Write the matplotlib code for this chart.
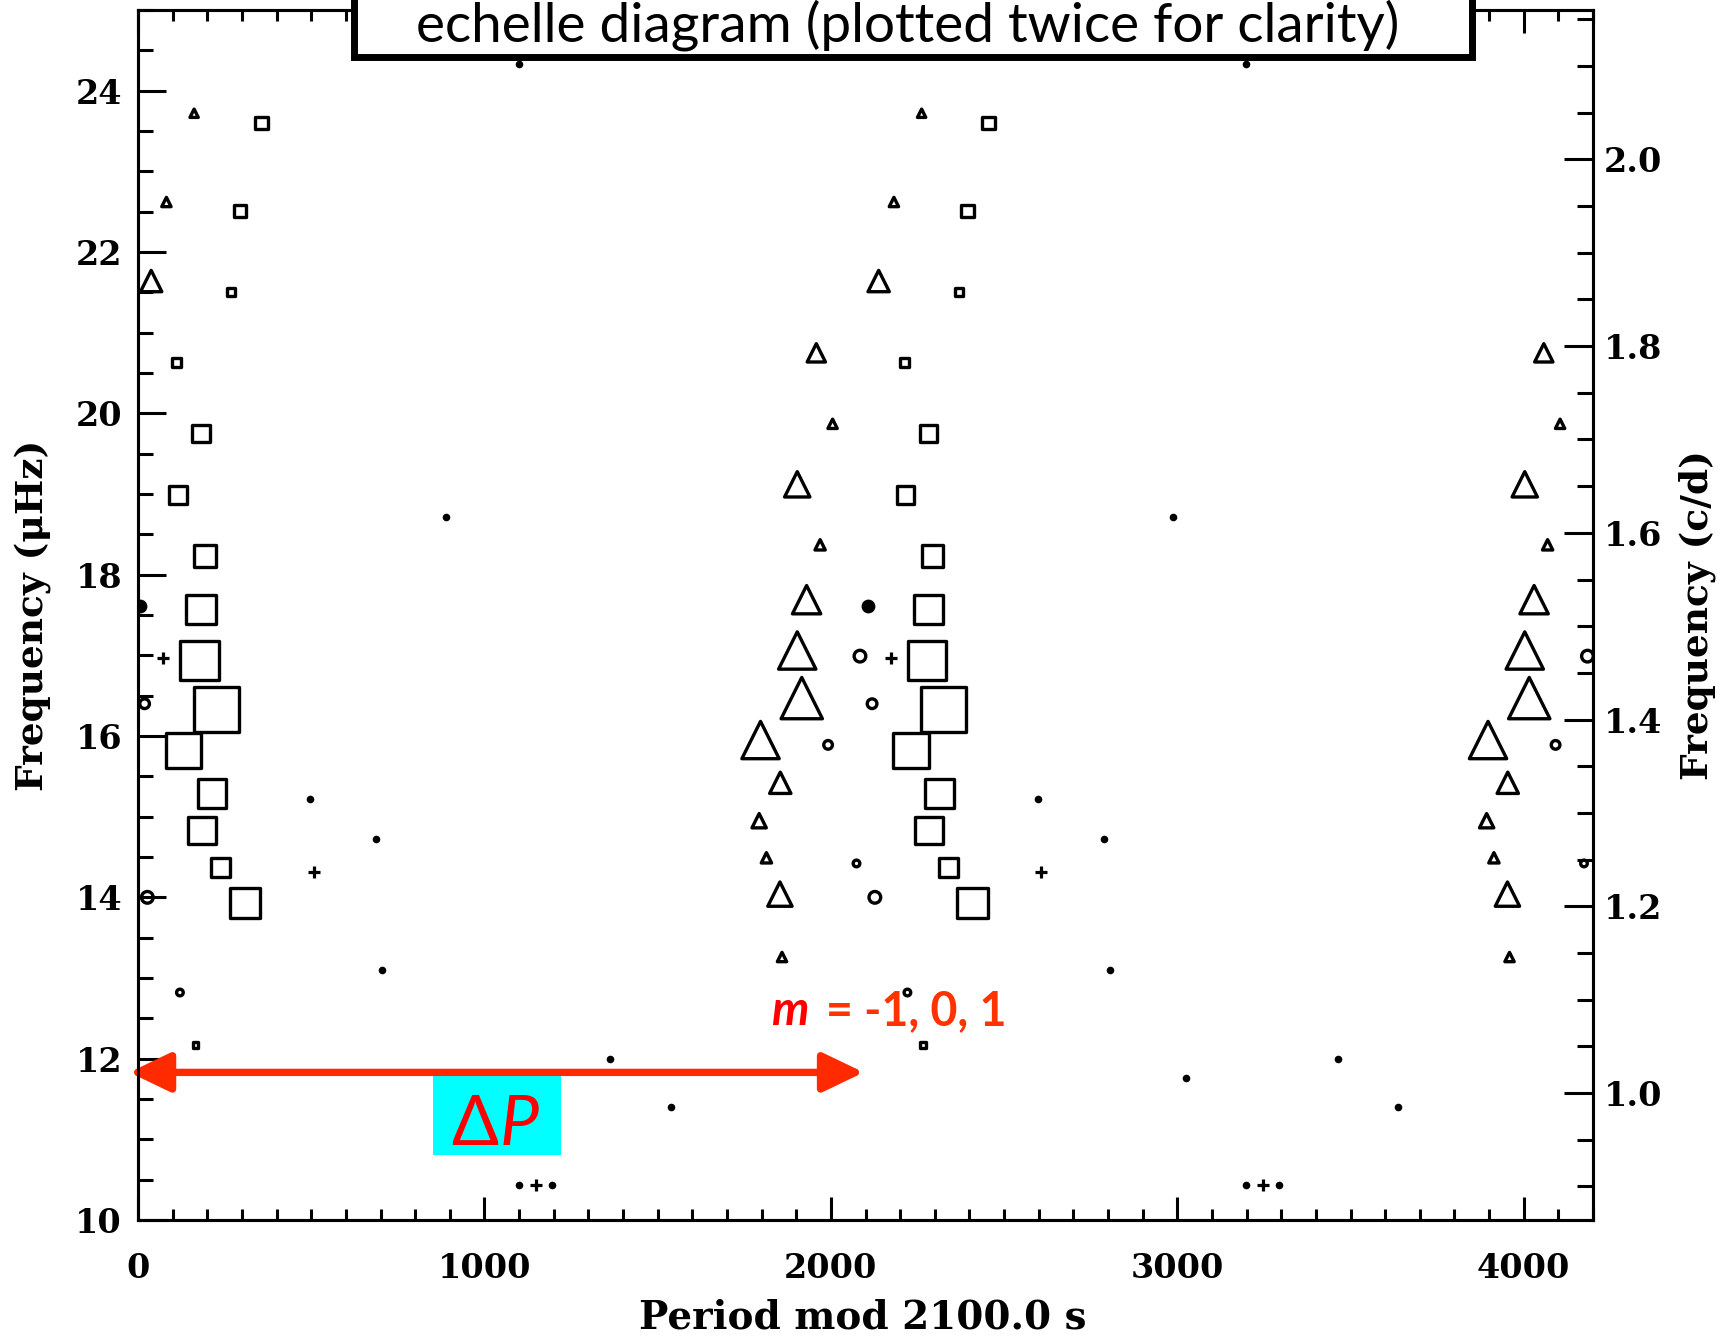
import numpy as np
import matplotlib.pyplot as plt
from matplotlib.patches import Rectangle
from matplotlib.ticker import MultipleLocator, FormatStrFormatter

# Echelle diagram: every mode drawn at (P mod dP) and again at (P mod dP) + dP
delta_p = 2100.0
uhz_to_cd = 0.0864

# squares: period mod 2100 s, frequency (uHz), amplitude (marker size)
sq_mod = np.array([356, 294, 269, 112, 182, 115, 193, 182, 178, 226, 131, 214, 184, 239, 309, 166])
sq_freq = np.array([23.60, 22.51, 21.50, 20.63, 19.75, 18.99, 18.23, 17.57, 16.94, 16.33,
                    15.82, 15.29, 14.83, 14.37, 13.93, 12.17])
sq_amp = np.array([16, 16, 11, 12, 21, 21, 25, 33, 42, 48, 39, 32, 31, 22, 34, 9])

# triangles
tri_mod = np.array([162, 82, 38, 1958, 2005, 1903, 1969, 1930, 1903, 1916, 1797, 1854,
                    1793, 1814, 1853, 1859])
tri_freq = np.array([23.72, 22.62, 21.64, 20.75, 19.87, 19.12, 18.37, 17.69, 17.06, 16.47,
                     15.95, 15.42, 14.95, 14.49, 14.04, 13.26])
tri_amp = np.array([14, 15, 27, 24, 15, 31, 16, 34, 43, 47, 43, 27, 20, 16, 30, 15])

# small open circles
circ_mod = np.array([2084, 19, 1992, 2074, 27, 121])
circ_freq = np.array([16.99, 16.40, 15.89, 14.42, 14.00, 12.82])
circ_amp = np.array([15, 13, 12, 10, 15, 10])

# filled circle
fill_mod = np.array([6])
fill_freq = np.array([17.61])

# tiny dots and plus signs
dot_mod = np.array([888, 497, 688, 705, 1099, 1363, 1538, 924, 1099, 1194])
dot_freq = np.array([18.71, 15.22, 14.72, 13.10, 24.33, 12.00, 11.40, 11.76, 10.43, 10.43])
plus_mod = np.array([73, 507, 1148])
plus_freq = np.array([16.97, 14.32, 10.43])

plt.rcParams['font.family'] = 'DejaVu Serif'
plt.rcParams['font.weight'] = 'bold'
plt.rcParams['axes.labelweight'] = 'bold'
px_per_pt = 100 / 72.0
lw = 2.4


def msize(amp, grow):
    # amp is the outer size in px; remove the part added by the stroke
    side = np.maximum(amp - grow * lw * px_per_pt, 1.5) / px_per_pt
    return side ** 2


fig = plt.figure(figsize=(17.29, 13.40), dpi=100)
ax = fig.add_axes([138 / 1729, 120 / 1340, 1455 / 1729, 1210 / 1340])

for k in (0, 1):
    shift = k * delta_p
    ax.scatter(sq_mod + shift, sq_freq, s=msize(sq_amp, 1.0), marker='s',
               facecolors='none', edgecolors='black', linewidths=lw)
    ax.scatter(tri_mod + shift, tri_freq, s=msize(tri_amp, 1.7), marker='^',
               facecolors='none', edgecolors='black', linewidths=lw)
    ax.scatter(circ_mod + shift, circ_freq, s=msize(circ_amp, 1.0), marker='o',
               facecolors='none', edgecolors='black', linewidths=lw)
    ax.scatter(fill_mod + shift, fill_freq, s=80, marker='o', color='black')
    ax.scatter(dot_mod + shift, dot_freq, s=20, marker='o', color='black')
    ax.scatter(plus_mod + shift, plus_freq, s=70, marker='+', color='black', linewidths=2.3)

ax.set_xlim(0, 2 * delta_p)
ax.set_ylim(10, 25)

for sp in ax.spines.values():
    sp.set_linewidth(2.2)

ax.xaxis.set_major_locator(MultipleLocator(1000))
ax.xaxis.set_minor_locator(MultipleLocator(100))
ax.yaxis.set_major_locator(MultipleLocator(2))
ax.yaxis.set_minor_locator(MultipleLocator(0.5))
ax.xaxis.set_major_formatter(FormatStrFormatter('%d'))
ax.yaxis.set_major_formatter(FormatStrFormatter('%d'))
ax.tick_params(axis='x', which='major', direction='in', length=16.5, width=2.2,
               top=True, pad=23, labelsize=24)
ax.tick_params(axis='x', which='minor', direction='in', length=8, width=2.2, top=True)
ax.tick_params(axis='y', which='major', direction='in', length=20, width=2.2,
               right=False, pad=11.5, labelsize=24)
ax.tick_params(axis='y', which='minor', direction='in', length=10.5, width=2.2, right=False)

ax2 = ax.twinx()
ax2.set_ylim(10 * uhz_to_cd, 25 * uhz_to_cd)
ax2.yaxis.set_major_locator(MultipleLocator(0.2))
ax2.yaxis.set_minor_locator(MultipleLocator(0.05))
ax2.yaxis.set_major_formatter(FormatStrFormatter('%.1f'))
ax2.tick_params(axis='y', which='major', direction='in', length=21, width=2.2,
                pad=8, labelsize=24)
ax2.tick_params(axis='y', which='minor', direction='in', length=11.5, width=2.2)
for sp in ax2.spines.values():
    sp.set_linewidth(2.2)

ax.set_xlabel('Period mod 2100.0 s', fontsize=28, va='baseline')
ax.xaxis.set_label_coords(0.498, -0.0895)
ax.set_ylabel('Frequency (\u03bcHz)', fontsize=27, va='center', ha='center')
ax.yaxis.set_label_coords(-0.072, 0.5)
ax2.set_ylabel('Frequency (c/d)', fontsize=27, va='center', ha='center', rotation=90)
ax2.yaxis.set_label_coords(1.0715, 0.5)

# delta P arrow and label
ax.annotate('', xy=(-25, 11.83), xytext=(2095, 11.83),
            arrowprops=dict(arrowstyle='<|-|>,head_length=25,head_width=12',
                            mutation_scale=1, lw=5.3, color='#ff2a00',
                            shrinkA=0, shrinkB=0, clip_on=False),
            annotation_clip=False, zorder=6)
ax.add_patch(Rectangle((851, 10.80), 370, 0.98, facecolor='#00ffff',
                       edgecolor='none', zorder=5))
ax.text(973, 10.93, '\u0394', color='red', fontsize=50, family=['Lato', 'DejaVu Sans'],
        weight='normal', ha='center', va='baseline', zorder=7)
ax.text(1100, 10.93, 'P', color='red', fontsize=50, family=['Lato', 'DejaVu Sans'],
        weight='normal', style='italic', ha='center', va='baseline', zorder=7)

ax.text(1826, 12.42, 'm', color='#ff0000', fontsize=34, family='Lato',
        weight='bold', style='italic', ha='left', va='baseline', zorder=7)
ax.text(1986, 12.42, '= -1, 0, 1', color='#ff3300', fontsize=33.5, family='Lato',
        weight='bold', ha='left', va='baseline', zorder=7)

# title box at the top, running off the figure edge
fig.add_artist(Rectangle((354 / 1729, 1 - 57 / 1340), (1472 - 354) / 1729, 0.2,
                         transform=fig.transFigure, facecolor='white',
                         edgecolor='black', lw=5, clip_on=False, zorder=5))
fig.text(0.5252, 1 - 41.5 / 1340, 'echelle diagram (plotted twice for clarity)',
         ha='center', va='baseline', fontsize=39.5, family='Lato',
         weight='normal', zorder=6)

fig.savefig('out.png', dpi=100)
